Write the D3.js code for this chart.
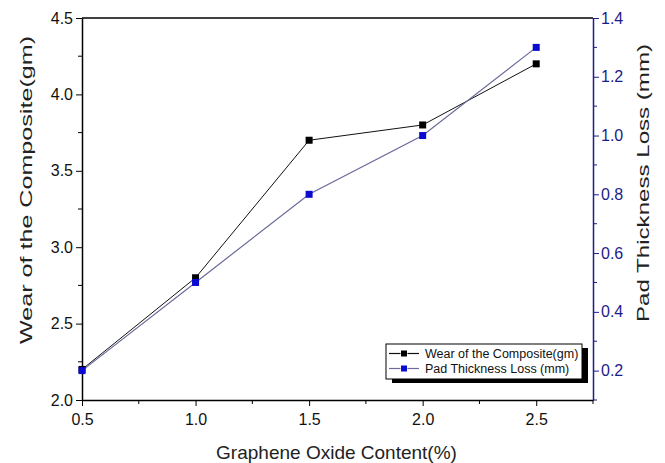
<!DOCTYPE html>
<html>
<head>
<meta charset="utf-8">
<script src="https://cdn.jsdelivr.net/npm/d3@7"></script>
<style>
  body { margin: 0; background: #fff; }
  text { font-family: "Liberation Sans", Arial, sans-serif; }
</style>
</head>
<body>
<script>
const width  = 665;
const height = 463;

// data
const goContent = [0.5, 1.0, 1.5, 2.0, 2.5];
const wearGm    = [2.2, 2.8, 3.7, 3.8, 4.2];
const padLossMm = [0.2, 0.5, 0.8, 1.0, 1.3];

const xTicks      = [0.5, 1.0, 1.5, 2.0, 2.5];
const xMinor      = [0.75, 1.25, 1.75, 2.25, 2.75];
const leftTicks   = [2.0, 2.5, 3.0, 3.5, 4.0, 4.5];
const leftMinor   = [2.25, 2.75, 3.25, 3.75, 4.25];
const rightTicks  = [0.2, 0.4, 0.6, 0.8, 1.0, 1.2, 1.4];
const rightMinor  = [0.1, 0.3, 0.5, 0.7, 0.9, 1.1, 1.3];

const m = {left: 82, right: 593, top: 18, bottom: 400};
const navy = '#1c1c8a';

const x  = d3.scaleLinear().domain([0.5, 2.75]).range([m.left, m.right]);
const yL = d3.scaleLinear().domain([2.0, 4.5]).range([m.bottom, m.top]);
const yR = d3.scaleLinear().domain([0.1, 1.4]).range([m.bottom, m.top]);

const svg = d3.select('body').append('svg')
      .attr('width', width)
      .attr('height', height);

// top frame line
svg.append('line')
  .attr('x1', m.left).attr('x2', m.right)
  .attr('y1', m.top).attr('y2', m.top)
  .attr('stroke', '#000').attr('stroke-width', 1.5);

const fmt = d3.format('.1f');

// bottom axis
const gx = svg.append('g').attr('transform', 'translate(0,' + m.bottom + ')')
  .call(d3.axisBottom(x).tickValues(xTicks).tickFormat(fmt).tickSize(6).tickSizeOuter(0));
gx.append('g').selectAll('line').data(xMinor).enter().append('line')
  .attr('x1', d => x(d)).attr('x2', d => x(d)).attr('y1', 0).attr('y2', 4)
  .attr('stroke', '#000');
gx.selectAll('text').attr('font-size', 16).attr('dy', null).attr('y', 25).attr('fill', '#111');

// left axis
const gl = svg.append('g').attr('transform', 'translate(' + m.left + ',0)')
  .call(d3.axisLeft(yL).tickValues(leftTicks).tickFormat(fmt).tickSize(6).tickSizeOuter(0));
gl.append('g').selectAll('line').data(leftMinor).enter().append('line')
  .attr('y1', d => yL(d)).attr('y2', d => yL(d)).attr('x1', 0).attr('x2', -4)
  .attr('stroke', '#000');
gl.selectAll('text').attr('font-size', 16).attr('x', -9).attr('fill', '#111');

// right axis
const gr = svg.append('g').attr('transform', 'translate(' + m.right + ',0)')
  .call(d3.axisRight(yR).tickValues(rightTicks).tickFormat(fmt).tickSize(6).tickSizeOuter(0));
gr.append('g').selectAll('line').data(rightMinor).enter().append('line')
  .attr('y1', d => yR(d)).attr('y2', d => yR(d)).attr('x1', 0).attr('x2', 4)
  .attr('stroke', navy);
gr.select('.domain').attr('stroke', navy);
gr.selectAll('.tick line').attr('stroke', navy);
gr.selectAll('text').attr('font-size', 16).attr('x', 8).attr('fill', navy);

[gx, gl, gr].forEach(g => g.selectAll('.domain').attr('stroke-width', 1.5));

// axis titles
svg.append('text')
  .attr('x', (m.left + m.right) / 2 - 1).attr('y', 459)
  .attr('text-anchor', 'middle').attr('font-size', 19)
  .attr('fill', '#222')
  .text('Graphene Oxide Content(%)');

svg.append('text')
  .attr('transform', 'translate(32,' + 190 + ') rotate(-90)')
  .attr('text-anchor', 'middle').attr('font-size', 17)
  .attr('textLength', 308).attr('lengthAdjust', 'spacingAndGlyphs')
  .attr('fill', '#222')
  .text('Wear of the Composite(gm)');

svg.append('text')
  .attr('transform', 'translate(649,' + 183 + ') rotate(-90)')
  .attr('text-anchor', 'middle').attr('font-size', 17)
  .attr('textLength', 278).attr('lengthAdjust', 'spacingAndGlyphs')
  .attr('fill', '#222')
  .text('Pad Thickness Loss (mm)');

// series
const wearData = goContent.map((g, i) => ({x: g, y: wearGm[i]}));
const padData  = goContent.map((g, i) => ({x: g, y: padLossMm[i]}));

const lineL = d3.line().x(d => x(d.x)).y(d => yL(d.y));
const lineR = d3.line().x(d => x(d.x)).y(d => yR(d.y));

svg.append('path').datum(wearData).attr('d', lineL)
  .attr('fill', 'none').attr('stroke', '#111').attr('stroke-width', 1);
svg.append('path').datum(padData).attr('d', lineR)
  .attr('fill', 'none').attr('stroke', '#6a6a9c').attr('stroke-width', 1.2);

const ms = 7;
svg.selectAll('.mk-wear').data(wearData).enter().append('rect')
  .attr('class', 'mk-wear')
  .attr('x', d => x(d.x) - ms / 2).attr('y', d => yL(d.y) - ms / 2)
  .attr('width', ms).attr('height', ms).attr('fill', '#000');
svg.selectAll('.mk-pad').data(padData).enter().append('rect')
  .attr('class', 'mk-pad')
  .attr('x', d => x(d.x) - ms / 2).attr('y', d => yR(d.y) - ms / 2)
  .attr('width', ms).attr('height', ms).attr('fill', '#0a0ad0');

// legend
const lg = svg.append('g').attr('transform', 'translate(386,344)');
lg.append('rect').attr('x', 6).attr('y', 4).attr('width', 196).attr('height', 35).attr('fill', '#000');
lg.append('rect').attr('x', 0).attr('y', 0).attr('width', 196).attr('height', 35)
  .attr('fill', '#fff').attr('stroke', '#000').attr('stroke-width', 1);

const legendItems = [
  {label: 'Wear of the Composite(gm)', line: '#111', mark: '#000'},
  {label: 'Pad Thickness Loss (mm)',  line: '#6a6a9c', mark: '#0a0ad0'}
];
legendItems.forEach((d, i) => {
  const cy = 9.5 + i * 15;
  lg.append('line').attr('x1', 3).attr('x2', 33).attr('y1', cy).attr('y2', cy)
    .attr('stroke', d.line).attr('stroke-width', 1.2);
  lg.append('rect').attr('x', 14.5).attr('y', cy - 3.5).attr('width', 7).attr('height', 7)
    .attr('fill', '#fff');
  lg.append('rect').attr('x', 15).attr('y', cy - 3).attr('width', 6).attr('height', 6)
    .attr('fill', d.mark);
  lg.append('text').attr('x', 39).attr('y', cy + 4.5)
    .attr('font-size', 12.5).attr('fill', '#111')
    .text(d.label);
});
</script>
</body>
</html>
